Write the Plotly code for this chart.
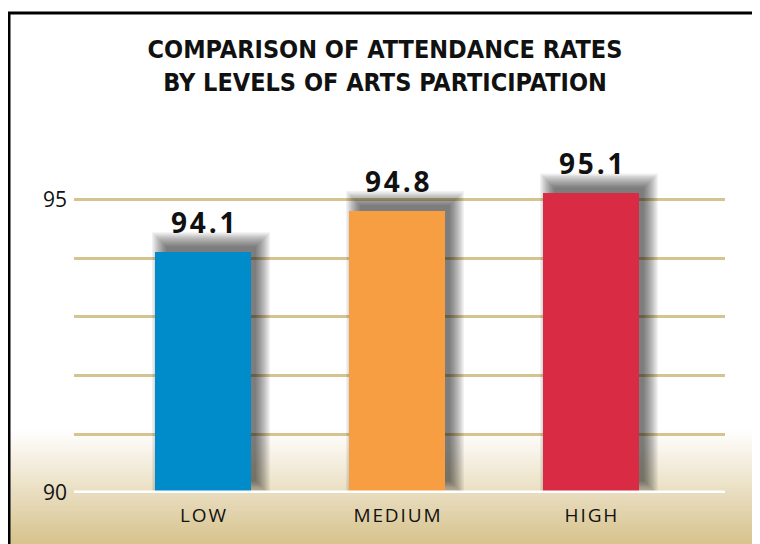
import plotly.graph_objects as go

# chart data
categories = ["LOW", "MEDIUM", "HIGH"]
attendance = [94.1, 94.8, 95.1]
bar_colors = ["#008bca", "#f79e43", "#d92b43"]
y_tickvals = [90, 91, 92, 93, 94, 95]
y_ticktext = ["90", "", "", "", "", "95"]

# page body adds an 8px margin, so the figure is drawn 8px in from the window edge
PAGE_OFF = 8
W, H = 760 - PAGE_OFF, 544 - PAGE_OFF
M_L, M_R, M_T, M_B = 74 - PAGE_OFF, 35, 170 - PAGE_OFF, 51
X_RANGE = [-0.665, 2.691]
Y_RANGE = [90, 95.5]
BAR_W = 0.495

plot_w = W - M_L - M_R
plot_h = H - M_T - M_B


### window pixel -> paper coordinate helpers for decoration ###
def paper_x(px):
    return (px - PAGE_OFF - M_L) / plot_w


def paper_y(py):
    return (H - M_B - (py - PAGE_OFF)) / plot_h


def spaced(s, sep="\u200a"):
    return sep.join(s)


x_per_px = (X_RANGE[1] - X_RANGE[0]) / plot_w
y_per_px = (Y_RANGE[1] - Y_RANGE[0]) / plot_h

xs = list(range(len(categories)))

fig = go.Figure()
fig.add_trace(go.Bar(
    x=xs, y=attendance, width=BAR_W,
    base=0,
    marker=dict(color=bar_colors, line=dict(width=0)),
    hoverinfo="skip", showlegend=False,
))

shapes = []

# tan gradient at the bottom of the page
top_px, bot_px = 430, 546
n_strips = 60
c0 = (255, 255, 255)
c1 = (214, 193, 138)
for k in range(n_strips):
    t = (k + 0.5) / n_strips
    col = tuple(round(c0[j] + (c1[j] - c0[j]) * t) for j in range(3))
    y0 = top_px + (bot_px - top_px) * k / n_strips
    y1 = top_px + (bot_px - top_px) * (k + 1) / n_strips + 1
    shapes.append(dict(
        type="rect", xref="paper", yref="paper", layer="below",
        x0=paper_x(0), x1=paper_x(770), y0=paper_y(y1), y1=paper_y(y0),
        fillcolor="rgb(%d,%d,%d)" % col, line=dict(width=0),
    ))

# soft drop shadow behind each bar
off_x, off_y = 8, 9
n_layers = 12
for i, v in zip(xs, attendance):
    for k in range(n_layers):
        grow = 11 - 14 * k / (n_layers - 1)
        shapes.append(dict(
            type="rect", xref="x", yref="y", layer="between",
            x0=i - BAR_W / 2 + (off_x - grow) * x_per_px,
            x1=i + BAR_W / 2 + (off_x + grow) * x_per_px,
            y0=Y_RANGE[0] + (off_y - grow) * y_per_px,
            y1=v + (off_y + grow) * y_per_px,
            fillcolor="rgba(0,0,0,0.055)", line=dict(width=0),
        ))

# white baseline
shapes.append(dict(
    type="line", xref="x domain", yref="y", layer="above",
    x0=0, x1=1, y0=Y_RANGE[0], y1=Y_RANGE[0],
    line=dict(color="white", width=5),
))

# black frame on left and top
shapes.append(dict(
    type="line", xref="paper", yref="paper",
    x0=paper_x(9), x1=paper_x(9), y0=paper_y(550), y1=paper_y(12),
    line=dict(color="black", width=3),
))
shapes.append(dict(
    type="line", xref="paper", yref="paper",
    x0=paper_x(8), x1=paper_x(770), y0=paper_y(13), y1=paper_y(13),
    line=dict(color="black", width=3),
))

annotations = []
for i, v in zip(xs, attendance):
    annotations.append(dict(
        x=i, y=v, xref="x", yref="y", yanchor="bottom", yshift=9,
        text=spaced("%.1f" % v), showarrow=False,
        font=dict(family="Open Sans", size=28, color="#111111", weight="bold"),
    ))

fig.update_layout(
    width=W, height=H,
    margin=dict(l=M_L, r=M_R, t=M_T, b=M_B),
    paper_bgcolor="white",
    plot_bgcolor="rgba(0,0,0,0)",
    title=dict(
        text="COMPARISON OF ATTENDANCE RATES<br>BY LEVELS OF ARTS PARTICIPATION",
        x=(385 - PAGE_OFF) / W, xanchor="center",
        y=1 - (58 - PAGE_OFF) / H, yanchor="middle",
        font=dict(family="DejaVu Sans Condensed", size=25, color="#111111", weight="bold"),
    ),
    xaxis=dict(
        range=X_RANGE, tickvals=xs, ticktext=[spaced(c) for c in categories],
        showgrid=False, zeroline=False, showline=False,
        ticklabelstandoff=9,
        tickfont=dict(family="Open Sans", size=19, color="#111111"),
    ),
    yaxis=dict(
        range=Y_RANGE, tickvals=y_tickvals, ticktext=y_ticktext,
        showgrid=True, gridcolor="#d6c490", gridwidth=3,
        zeroline=False, showline=False,
        ticklabelstandoff=6,
        tickfont=dict(family="Open Sans", size=21, color="#111111"),
    ),
    shapes=shapes,
    annotations=annotations,
    bargap=0,
)

fig.write_html("out.html")
